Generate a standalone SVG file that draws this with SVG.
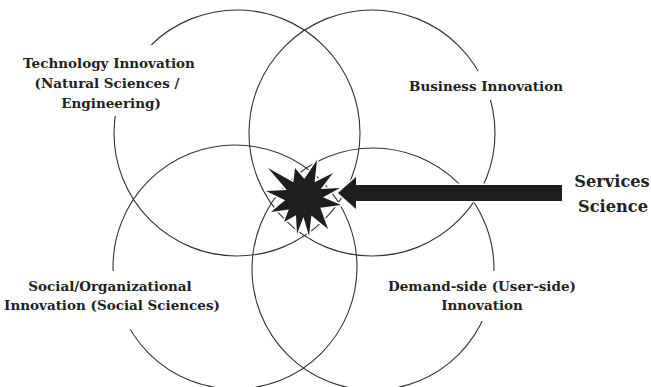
<svg xmlns="http://www.w3.org/2000/svg" width="651" height="387" viewBox="0 0 651 387">
  <style>
    .ring { fill: none; stroke: #333; stroke-width: 1.1; }
    .pad { fill: #fff; stroke: none; }
    .lbl { font-family: "DejaVu Serif", "Liberation Serif", serif; font-weight: bold; font-size: 13.5px; fill: #222; text-anchor: middle; }
    .big { font-size: 16.2px; }
    .halo { fill: #fff; stroke: #fff; stroke-width: 3; stroke-linejoin: round; }
    .solid { fill: #1e1e1e; stroke: none; }
  </style>
  <rect width="651" height="387" fill="#fff"/>

  <!-- Four overlapping innovation areas -->
  <g id="technology">
    <circle class="ring" cx="237" cy="133" r="123"/>
    <rect class="pad" x="18" y="45" width="186" height="71"/>
    <text class="lbl" x="109" y="68">Technology Innovation</text>
    <text class="lbl" x="107" y="88">(Natural Sciences /</text>
    <text class="lbl" x="111" y="108">Engineering)</text>
  </g>

  <g id="business">
    <circle class="ring" cx="372" cy="133" r="123"/>
    <rect class="pad" x="405" y="71" width="162" height="29"/>
    <text class="lbl" x="486" y="91">Business Innovation</text>
  </g>

  <g id="social">
    <circle class="ring" cx="235" cy="267" r="122"/>
    <rect class="pad" x="4" y="271" width="218" height="58"/>
    <text class="lbl" x="110" y="291">Social/Organizational</text>
    <text class="lbl" x="112" y="310">Innovation (Social Sciences)</text>
  </g>

  <g id="demand">
    <circle class="ring" cx="373" cy="269" r="121"/>
    <rect class="pad" x="386" y="271" width="192" height="50"/>
    <text class="lbl" x="482" y="291">Demand-side (User-side)</text>
    <text class="lbl" x="482" y="310">Innovation</text>
  </g>

  <!-- Burst at the shared centre -->
  <g id="burst">
    <polygon class="halo" points="317,160 314.6,182.2 333,173 320.8,189.1 340,188 323,197.3 341,205 320.3,207.8 328,229 311.4,215.5 309,236 303.5,217 297,234 296,215.2 284,222 288.8,209.4 271,212 285.1,200.3 266,191 286.8,190 268,168 293.4,182.2 295,168 304.3,179"/>
    <polygon class="solid" points="317,160 314.6,182.2 333,173 320.8,189.1 340,188 323,197.3 341,205 320.3,207.8 328,229 311.4,215.5 309,236 303.5,217 297,234 296,215.2 284,222 288.8,209.4 271,212 285.1,200.3 266,191 286.8,190 268,168 293.4,182.2 295,168 304.3,179"/>
  </g>

  <g id="services-science">
    <text class="lbl big" x="612" y="187">Services</text>
    <text class="lbl big" x="613" y="212">Science</text>
  </g>

  <!-- Thick arrow pointing into the burst -->
  <g id="connectors">
    <polygon class="halo" points="338,193 356,177 356,185 562,185 562,201 356,201 356,209"/>
    <polygon class="solid" points="338,193 356,177 356,185 562,185 562,201 356,201 356,209"/>
  </g>
</svg>
